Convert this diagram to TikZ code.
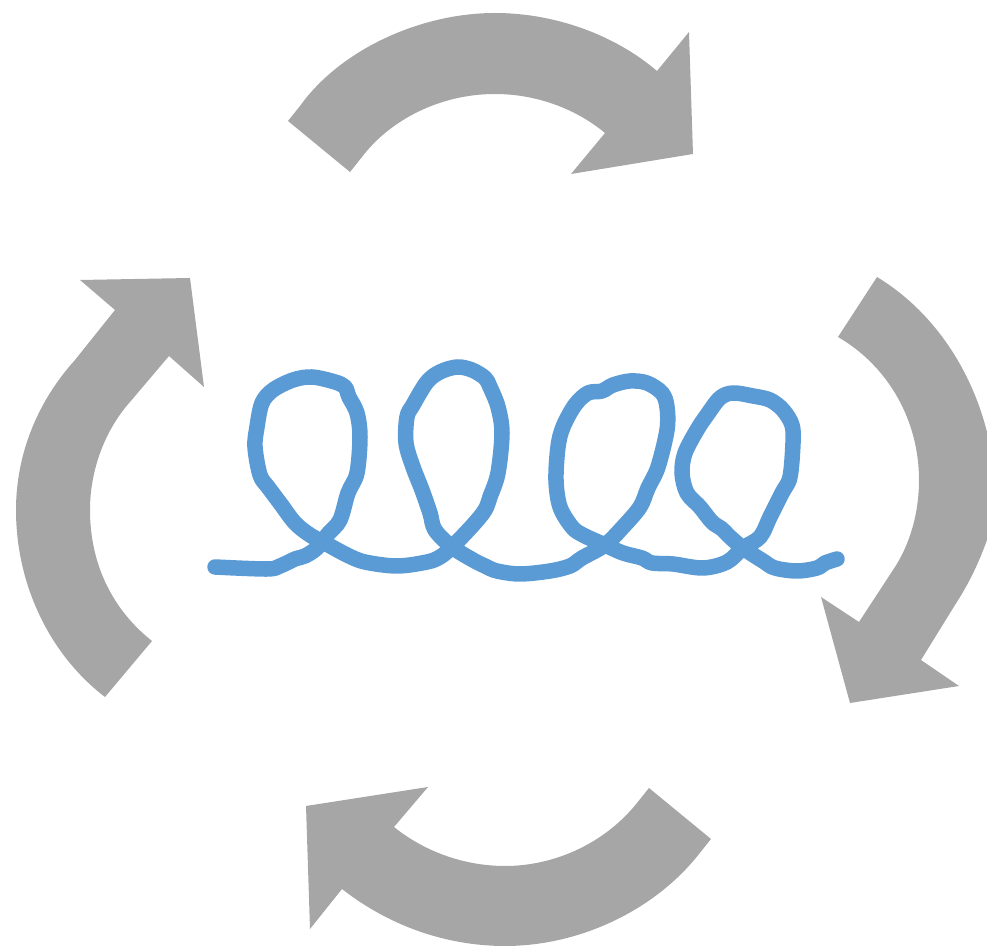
\documentclass[tikz,border=0pt]{standalone}

\tikzset{
  turnarrow/.style={fill=arrowgray,draw=none},
  springline/.style={draw=springblue,line width=.155cm,line cap=round,line join=round}
}
\definecolor{arrowgray}{HTML}{A6A6A6}
\definecolor{springblue}{HTML}{5B9BD5}

\begin{document}
\begin{tikzpicture}[x=.01cm,y=-.01cm]
    \useasboundingbox (0,0) rectangle (987,946);

    % top arrow
    \path[turnarrow] (288,121) -- (300,106) .. controls (340,50) and (420,13) .. (495,13)
      .. controls (555,13) and (615,35) .. (657,71) -- (689,32) -- (693,154) -- (571,174) -- (605,133)
      .. controls (575,108) and (535,94) .. (495,94) .. controls (440,94) and (390,120) .. (362,157)
      -- (350,172) -- cycle;

    % right arrow
    \path[turnarrow] (877,277) .. controls (930,309) and (970,365) .. (987,432)
      -- (987,540) .. controls (978,565) and (968,585) .. (955,605) -- (921,660) -- (959,686)
      -- (850,703) -- (821,597) -- (859,622) -- (893,570) .. controls (910,545) and (919,513) .. (919,480)
      .. controls (919,420) and (888,366) .. (838,337) -- cycle;

    % bottom arrow
    \path[turnarrow] (711,839) -- (699,854) .. controls (655,910) and (580,946) .. (505,946)
      .. controls (445,946) and (388,925) .. (342,889) -- (310,929) -- (306,806) -- (428,787) -- (394,827)
      .. controls (425,852) and (465,866) .. (505,866) .. controls (555,866) and (605,843) .. (637,803)
      -- (649,788) -- cycle;

    % left arrow
    \path[turnarrow] (105,697) .. controls (50,655) and (16,585) .. (16,510)
      .. controls (16,455) and (37,402) .. (75,360) -- (115,310) -- (80,280) -- (190,278) -- (204,387)
      -- (169,356) -- (130,402) .. controls (105,430) and (90,470) .. (90,510)
      .. controls (90,565) and (113,610) .. (152,641) -- cycle;

    % spring
    \draw[springline] plot[smooth,tension=.55] coordinates {
      (215,567) (267,569) (280,566) (295,559) (305,556) (317,548) (328,534) (340,520) (348,493)
      (357,473) (360,437) (357,413) (349,397) (345,387) (335,382) (312,377) (293,380) (273,390)
      (262,403) (257,427) (255,447) (260,475) (268,487) (280,503) (295,523) (310,535) (323,542)
      (347,555) (365,562) (397,566) (427,562) (440,557) (452,547) (473,525) (485,510) (490,497)
      (498,473) (502,433) (498,407) (490,387) (485,378) (472,370) (457,367) (440,372) (427,382)
      (413,405) (407,417) (406,443) (413,467) (422,490) (430,513) (435,530) (452,547) (473,560)
      (485,566) (497,571) (520,574) (550,571) (570,566) (582,558) (605,545) (623,527) (640,507)
      (648,488) (658,467) (667,430) (667,407) (662,393) (647,383) (630,381) (613,385) (602,391)
      (588,393) (575,405) (563,427) (558,447) (556,480) (560,507) (572,527) (583,535) (605,545)
      (623,553) (642,558) (652,563) (673,564) (703,568) (727,562) (743,548) (760,537) (770,517)
      (782,493) (790,477) (793,443) (792,425) (783,410) (770,400) (753,396) (733,393) (720,398)
      (707,415) (697,430) (685,453) (682,473) (687,493) (700,507) (712,522) (722,529) (730,537)
      (743,548) (763,561) (775,568) (797,571) (817,568) (825,563) (837,559)};
\end{tikzpicture}
\end{document}
